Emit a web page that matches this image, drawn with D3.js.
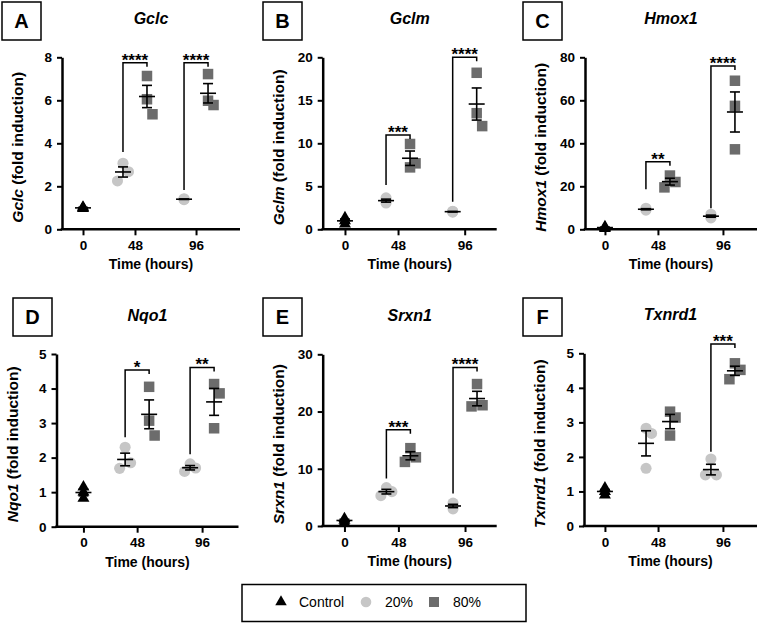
<!DOCTYPE html>
<html>
<head>
<meta charset="utf-8">
<script src="https://cdn.jsdelivr.net/npm/d3@7"></script>
<style>
  body { margin: 0; background: #fff; }
  text { font-family: "Liberation Sans", Arial, sans-serif; }
</style>
</head>
<body>
<script>
// ---- data ----
const genes = ["Gclc", "Gclm", "Hmox1", "Nqo1", "Srxn1", "Txnrd1"];
const panelLetters = ["A", "B", "C", "D", "E", "F"];
const hours = [0, 48, 96];
const groupNames = ["Control", "20%", "80%"];
const yMax = [8, 20, 80, 5, 30, 5];
const yStep = [2, 5, 20, 1, 10, 1];

// series order: [hour, group]
const seriesKeys = [[0, "Control"], [48, "20%"], [48, "80%"], [96, "20%"], [96, "80%"]];

// replicates, same order as seriesKeys
const gclc = [[1.0, 0.96, 1.03], [3.07, 2.68, 2.25], [7.13, 6.05, 5.35], [1.38, 1.40, 1.42], [7.22, 5.98, 5.78]];
const gclm = [[1.35, 1.0, 0.6], [3.65, 3.3, 3.05], [9.92, 7.67, 7.2], [2.0, 2.05, 2.1], [18.2, 13.5, 12.0]];
const hmox1 = [[1.2, 0.8, 0.4], [9.8, 9.3, 8.9], [25.0, 22.0, 19.5], [7.0, 6.0, 5.3], [69.1, 57.4, 37.2]];
const nqo1 = [[1.15, 1.0, 0.82], [2.30, 1.85, 1.69], [4.05, 3.07, 2.64], [1.82, 1.70, 1.60], [4.13, 3.86, 2.85]];
const srxn1 = [[1.3, 1.0, 0.6], [6.7, 6.0, 5.3], [13.6, 12.0, 11.2], [4.0, 3.5, 3.0], [24.8, 20.9, 21.1]];
const txnrd1 = [[1.1, 1.0, 0.9], [2.83, 2.68, 1.67], [3.31, 3.14, 2.62], [1.94, 1.48, 1.48], [4.71, 4.52, 4.25]];

// significance: [hour, stars, bracket top, bracket start (left leg)]
const gclcStars = [[48, "****", 7.75, 3.6], [96, "****", 7.75, 1.83]];
const gclmStars = [[48, "***", 10.97, 5.15], [96, "****", 20, 3.2]];
const hmox1Stars = [[48, "**", 31.4, 18.6], [96, "****", 76, 9.8]];
const nqo1Stars = [[48, "*", 4.54, 2.59], [96, "**", 4.61, 2.1]];
const srxn1Stars = [[48, "***", 16.8, 8.3], [96, "****", 27.7, 5.7]];
const txnrd1Stars = [[96, "***", 5.27, 2.15]];

const geneValues = [gclc, gclm, hmox1, nqo1, srxn1, txnrd1];
const geneStars = [gclcStars, gclmStars, hmox1Stars, nqo1Stars, srxn1Stars, txnrd1Stars];

// ---- layout ----
const layout = [
  { left: 62, top: 57.3, w: 178, h: 172, tx: [0.118, 0.41, 0.753], box: [2, 2] },
  { left: 322.7, top: 57.3, w: 174, h: 172, tx: [0.128, 0.433, 0.816], box: [263, 2] },
  { left: 585, top: 57.3, w: 172, h: 172, tx: [0.116, 0.424, 0.802], box: [523, 2] },
  { left: 56.5, top: 354, w: 182, h: 172.7, tx: [0.148, 0.443, 0.80], box: [13, 298] },
  { left: 322.7, top: 354.3, w: 174, h: 171.7, tx: [0.125, 0.435, 0.818], box: [263, 298] },
  { left: 584, top: 353.3, w: 173, h: 172.7, tx: [0.121, 0.428, 0.803], box: [523, 298] },
];

const color = { Control: "#000", "20%": "#c6c6c6", "80%": "#6c6c6c" };
const markSize = 10.5;
const groupShift = { Control: 0, "20%": -12, "80%": 12 };
const fontFam = '"Liberation Sans", Arial, sans-serif';

const svg = d3.select("body").append("svg")
  .attr("width", 758)
  .attr("height", 624);

function drawMark(sel, grp, x, y, s) {
  if (grp === "Control") {
    sel.append("path")
      .attr("d", d3.symbol(d3.symbolTriangle, 0.433 * (s + 1.5) * (s + 1.5))())
      .attr("transform", `translate(${x},${y})`)
      .attr("fill", color[grp]);
  } else if (grp === "20%") {
    sel.append("circle").attr("cx", x).attr("cy", y).attr("r", s / 2 + 0.3).attr("fill", color[grp]);
  } else {
    sel.append("rect").attr("x", x - s / 2).attr("y", y - s / 2)
      .attr("width", s).attr("height", s).attr("fill", color[grp]);
  }
}

// small beeswarm so neighbouring replicates sit side by side
function spread(vals, py, grp) {
  const off = vals.map(() => 0);
  const ys = vals.map(py);
  if (grp === "Control" || d3.max(ys) - d3.min(ys) < markSize * 0.6) return off;
  const order = d3.range(vals.length).sort((a, b) => vals[b] - vals[a]);
  const placed = [];
  order.forEach((k) => {
    for (const c of [0, 5.5, -5.5, 11, -11]) {
      const clash = placed.some((p) => Math.abs(p.x - c) < 4.5 && Math.abs(p.y - ys[k]) < markSize * 2.2);
      if (!clash) { off[k] = c; break; }
    }
    placed.push({ x: off[k], y: ys[k] });
  });
  return off;
}

genes.forEach((gene, i) => {
  const L = layout[i];
  const g = svg.append("g").attr("transform", `translate(${L.left},${L.top})`);

  const x = d3.scaleLinear().domain(hours).range(L.tx.map((f) => f * L.w));
  const y = d3.scaleLinear().domain([0, yMax[i]]).range([L.h, 0]);
  const gx = (hr, grp) => x(hr) + groupShift[grp];

  // y axis
  const ya = g.append("g")
    .call(d3.axisLeft(y)
      .tickValues(d3.range(0, yMax[i] + 1e-9, yStep[i]))
      .tickFormat(d3.format("d"))
      .tickSize(5).tickSizeOuter(0).tickPadding(5));
  ya.select(".domain").attr("stroke-width", 2.5);
  ya.selectAll(".tick line").attr("stroke-width", 2);
  ya.selectAll("text").attr("font-size", 13.5).attr("font-weight", "bold")
    .attr("font-family", fontFam).attr("fill", "#000");

  // x axis
  const xa = g.append("g").attr("transform", `translate(0,${L.h})`)
    .call(d3.axisBottom(x).tickValues(hours).tickSize(6).tickPadding(5));
  xa.select(".domain").remove();
  xa.append("line").attr("x1", -1.25).attr("x2", L.w).attr("stroke", "#000").attr("stroke-width", 2.5);
  xa.selectAll(".tick line").attr("stroke-width", 2);
  xa.selectAll("text").attr("font-size", 13.5).attr("font-weight", "bold")
    .attr("font-family", fontFam).attr("fill", "#000");

  // titles
  g.append("text").attr("x", L.w / 2).attr("y", -33)
    .attr("text-anchor", "middle").attr("font-size", 16)
    .attr("font-weight", "bold").attr("font-style", "italic").text(gene);

  g.append("text").attr("x", L.w / 2).attr("y", L.h + 40)
    .attr("text-anchor", "middle").attr("font-size", 14)
    .attr("font-weight", "bold").text("Time (hours)");

  const yl = g.append("text")
    .attr("transform", `translate(-45,${L.h / 2 + 4}) rotate(-90)`)
    .attr("text-anchor", "middle").attr("dominant-baseline", "central")
    .attr("font-size", 15.5).attr("font-weight", "bold");
  yl.append("tspan").attr("font-style", "italic").text(gene);
  yl.append("tspan").text(" (fold induction)");

  // points
  const pts = g.append("g");
  geneValues[i].forEach((vals, k) => {
    const [hr, grp] = seriesKeys[k];
    const off = spread(vals, y, grp);
    vals.forEach((v, j) => drawMark(pts, grp, gx(hr, grp) + off[j], y(v), markSize));
  });

  // mean +/- SEM
  const eb = g.append("g").attr("stroke", "#000").attr("stroke-width", 1.6);
  geneValues[i].forEach((vals, k) => {
    const [hr, grp] = seriesKeys[k];
    const cx = gx(hr, grp);
    const m = d3.mean(vals);
    const se = d3.deviation(vals) / Math.sqrt(vals.length);
    eb.append("line").attr("x1", cx).attr("x2", cx).attr("y1", y(m - se)).attr("y2", y(m + se));
    eb.append("line").attr("x1", cx - 5).attr("x2", cx + 5).attr("y1", y(m - se)).attr("y2", y(m - se));
    eb.append("line").attr("x1", cx - 5).attr("x2", cx + 5).attr("y1", y(m + se)).attr("y2", y(m + se));
    eb.append("line").attr("x1", cx - 8).attr("x2", cx + 8).attr("y1", y(m)).attr("y2", y(m));
  });

  // significance brackets
  geneStars[i].forEach(([hr, label, top, from]) => {
    const xl = gx(hr, "20%");
    const xr = gx(hr, "80%");
    g.append("path")
      .attr("d", `M${xl},${y(from)}V${y(top)}H${xr}V${y(top) + 4}`)
      .attr("fill", "none").attr("stroke", "#000").attr("stroke-width", 1.5);
    g.append("text").attr("x", (xl + xr) / 2).attr("y", y(top) + 3)
      .attr("text-anchor", "middle").attr("font-size", 17).attr("font-weight", "bold")
      .text(label);
  });

  // panel letter
  svg.append("rect").attr("x", L.box[0]).attr("y", L.box[1])
    .attr("width", 39).attr("height", 38)
    .attr("fill", "#fff").attr("stroke", "#000").attr("stroke-width", 1.5);
  svg.append("text").attr("x", L.box[0] + 19.5).attr("y", L.box[1] + 26)
    .attr("text-anchor", "middle").attr("font-size", 20).attr("font-weight", "bold")
    .text(panelLetters[i]);
});

// legend
const lg = svg.append("g");
lg.append("rect").attr("x", 242).attr("y", 584.5).attr("width", 284).attr("height", 37)
  .attr("fill", "#fff").attr("stroke", "#000").attr("stroke-width", 1.5);
const legendItems = [[281, 299], [366, 385], [434, 453]];
groupNames.forEach((grp, k) => {
  const [mx, tx] = legendItems[k];
  drawMark(lg, grp, mx, 602, 10);
  lg.append("text").attr("x", tx).attr("y", 607).attr("font-size", 14).text(grp);
});
</script>
</body>
</html>
